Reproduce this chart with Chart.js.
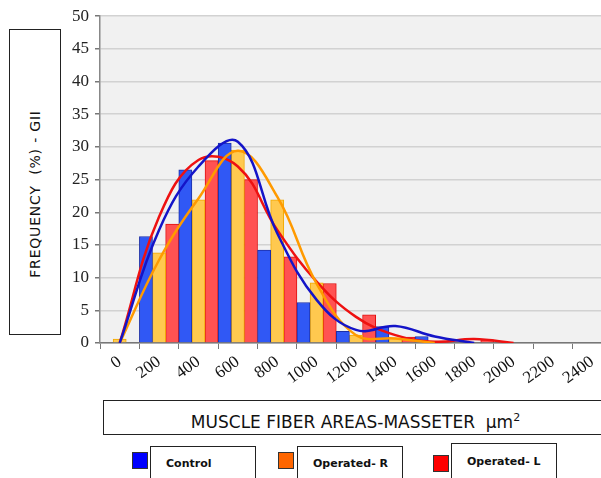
<!DOCTYPE html>
<html>
<head>
<meta charset="utf-8">
<script src="https://cdn.jsdelivr.net/npm/chart.js@4"></script>
<style>
  body { margin: 0; background: #fff; overflow: hidden; width: 601px; height: 478px; position: relative; }
  #wrap { position: absolute; left: 0; top: 0; width: 640px; height: 400px; }
  .box { position: absolute; border: 1.5px solid #222; background: #fff; box-sizing: border-box; }
  #ytitle { left: 9px; top: 29px; width: 52px; height: 306px; }
  #ytitle span { position: absolute; left: 50%; top: 54%; transform: translate(-50%, -50%) rotate(-90deg);
    white-space: pre; font: 14px "DejaVu Sans", sans-serif; letter-spacing: 0.8px; color: #111; }
  #xtitle { left: 103px; top: 400px; width: 505px; height: 35px; text-align: center;
    font: 17px "DejaVu Sans", sans-serif; line-height: 33px; color: #111; white-space: pre; }
  .sw { position: absolute; width: 16px; height: 17px; border: 1px solid #333; box-sizing: border-box; }
  .lb { position: absolute; top: 446px; width: 106px; height: 40px; border: 1.5px solid #222; box-sizing: border-box;
    font: bold 11px "DejaVu Sans", sans-serif; color: #111; padding: 10px 0 0 15px; }
</style>
</head>
<body>
<div id="wrap"><canvas id="chart" width="640" height="400"></canvas></div>
<div class="box" id="ytitle"><span>FREQUENCY  (%) - GII</span></div>
<div class="box" id="xtitle">MUSCLE FIBER AREAS-MASSETER  µm<sup style="font-size:11px">2</sup></div>
<div class="sw" style="left:132px;top:452px;background:#0000ff"></div>
<div class="lb" style="left:150px">Control</div>
<div class="sw" style="left:278px;top:452px;background:#ff6600"></div>
<div class="lb" style="left:297px">Operated-  R</div>
<div class="sw" style="left:433px;top:455px;background:#ff0000"></div>
<div class="lb" style="left:451px;top:443px;padding-top:11px">Operated-  L</div>

<script>
const categories = ['0', '200', '400', '600', '800', '1000', '1200', '1400', '1600', '1800', '2000', '2200', '2400'];

// bar heights (%)
const controlBars = [0, 16.3, 26.5, 30.6, 14.2, 6.2, 1.8, 2.5, 1.0, 0, 0, 0, 0];
const opRBars     = [0.6, 13.8, 21.9, 29.5, 21.9, 9.2, 1.2, 0.8, 0, 0, 0, 0, 0];
const opLBars     = [0, 18.2, 27.9, 25.0, 13.2, 9.1, 4.3, 0.9, 0, 0.5, 0, 0, 0];

// smoothed distribution curves
const controlCurve = [0, 17.3, 27.0, 30.8, 16.8, 6.6, 2.0, 2.6, 1.0, 0, null, null, null];
const opRCurve     = [0, 12.7, 22.1, 29.4, 22.4, 9.1, 1.2, 0.7, 0, null, null, null, null];
const opLCurve     = [0, 19.3, 28.0, 27.0, 17.3, 9.4, 4.0, 1.2, 0.2, 0.6, 0, null, null];

const plotBg = {
  id: 'plotBg',
  beforeDraw(chart) {
    const { ctx, chartArea: a } = chart;
    ctx.save();
    ctx.fillStyle = '#f1f1f1';
    ctx.fillRect(a.left, a.top, a.right - a.left, a.bottom - a.top);
    ctx.restore();
  }
};

function bar(label, data, fill, border) {
  return { type: 'bar', label, data, backgroundColor: fill, borderColor: border, borderWidth: 1,
    barPercentage: 1, categoryPercentage: 1, order: 2 };
}
function curve(label, data, color) {
  return { type: 'line', label, data, borderColor: color, borderWidth: 2.5, pointRadius: 0,
    tension: 0.4, fill: false, order: 1, spanGaps: false };
}

const ctx = document.getElementById('chart').getContext('2d');
new Chart(ctx, {
  data: {
    labels: categories,
    datasets: [
      bar('Control', controlBars, '#3058f5', '#1c2fa8'),
      bar('Operated- R', opRBars, '#ffc94f', '#f2a900'),
      bar('Operated- L', opLBars, '#ff5252', '#e01010'),
      curve('Control fit', controlCurve, '#1414c8'),
      curve('Operated- R fit', opRCurve, '#ff9a00'),
      curve('Operated- L fit', opLCurve, '#ee1111')
    ]
  },
  options: {
    responsive: false,
    animation: false,
    devicePixelRatio: 1,
    layout: { padding: { left: 0, top: 16, right: 28, bottom: 0 } },
    plugins: { legend: { display: false }, tooltip: { enabled: false } },
    scales: {
      x: {
        offset: true,
        grid: { offset: true, drawOnChartArea: false, drawTicks: true, tickLength: 6, color: '#777' },
        border: { color: '#777', width: 1.5 },
        ticks: { autoSkip: false, minRotation: 36, maxRotation: 36, color: '#111', padding: 3,
          font: { family: '"Liberation Serif", serif', size: 17 } },
        afterFit: s => { s.height = 57; }
      },
      y: {
        min: 0, max: 50,
        ticks: { stepSize: 5, autoSkip: false, color: '#222', padding: 6,
          font: { family: '"Liberation Serif", serif', size: 17 } },
        grid: { color: '#d2d2d2', lineWidth: 1.5, tickLength: 5, tickColor: '#777' },
        border: { color: '#888', width: 1.5 },
        afterFit: s => { s.width = 100; }
      }
    }
  },
  plugins: [plotBg]
});
</script>
</body>
</html>
